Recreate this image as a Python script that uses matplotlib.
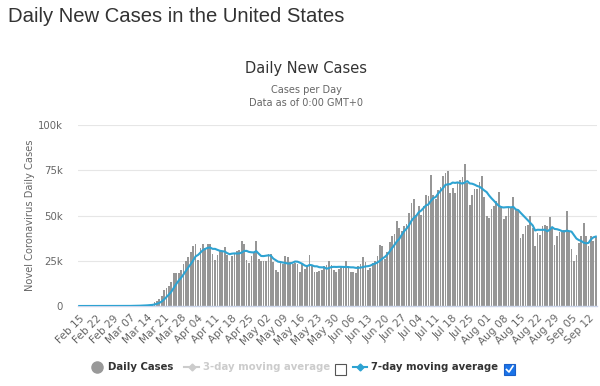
import datetime as dt
import numpy as np
import pandas as pd
import matplotlib
matplotlib.use('Agg')
import matplotlib.pyplot as plt
from matplotlib.lines import Line2D
from matplotlib.patches import Rectangle

# daily new cases in thousands, one value per day from Feb 15
start = dt.date(2020, 2, 15)
daily_k = [
    0, 0, 0, 0, 0, 0, 0.002, 0, 0, 0.018, 0, 0, 0.002, 0.003, 0.007,
    0.008, 0.023, 0.024, 0.030, 0.060, 0.068, 0.118, 0.130, 0.179, 0.290, 0.303, 0.420, 0.552, 0.650, 0.740, 1.15,
    2, 3, 4, 5.5, 9, 10, 11, 13, 18, 18.5,
    18.5, 20, 23, 25, 27, 30, 33, 34, 25.5, 32,
    34.5, 32, 34, 34, 29, 25.5, 28, 31, 30.5, 32.5,
    28, 25, 27.5, 29, 30.5, 31, 35.7, 34, 25.5, 23.5,
    27.5, 30, 36, 26, 25, 25, 25, 29, 29, 24.5,
    20, 19, 23.5, 23, 27.5, 27, 24.5, 23, 23.5, 23,
    19, 23, 20.5, 22, 28, 22, 19, 19, 19.5, 20,
    22, 22.5, 25, 22.5, 20, 19, 20.5, 22, 22, 25,
    22, 19, 19, 18.5, 22, 23, 27, 24.5, 20, 21,
    23.5, 25, 27.5, 33.5, 33, 26, 30, 35.5, 38.5, 40,
    47, 43, 41.5, 44, 45.5, 51.5, 57, 59, 50.5, 55,
    50.5, 55.5, 61.5, 61, 72.5, 61.5, 59, 64, 66, 72,
    73.5, 74.5, 62.5, 65, 62.5, 68, 69.5, 71.5, 78.5, 68,
    56, 61.5, 64.5, 64.5, 68.5, 72, 60, 49.5, 48.5, 53.5,
    55, 58, 63, 55, 48, 49.5, 54, 54, 60, 53,
    52.5, 37.5, 40, 44, 44.5, 50, 43, 33, 40.5, 39.5,
    44, 45, 44, 49, 43, 33.5, 38.5, 41, 41, 42,
    52.5, 41, 31.5, 25, 28, 35, 38.5, 46, 38.5, 33,
    38.5, 36, 38,
]
y_ticks = [0, 25, 50, 75, 100]
y_labels = ['0', '25k', '50k', '75k', '100k']

W, H = 600, 386
dates = [start + dt.timedelta(days=i) for i in range(len(daily_k))]
days = np.arange(len(daily_k))
avg7 = pd.Series(daily_k).rolling(7, min_periods=1).mean()


def fx(px):
    return px / W


def fy(py):
    return 1 - py / H


fig = plt.figure(figsize=(6, 3.86), dpi=100)
ax = fig.add_axes([fx(78), fy(306), fx(597) - fx(78), fy(125) - fy(306)])

ax.bar(days, daily_k, width=0.72, color='#969696', linewidth=0, zorder=2)
ax.plot(days, avg7, color='#2ea3d2', lw=1.5, zorder=3)

ax.set_xlim(-0.5, len(daily_k) - 0.5)
ax.set_ylim(0, 100)
ax.set_yticks(y_ticks)
ax.set_yticklabels(y_labels)
ax.grid(axis='y', color='#e6e6e6', lw=0.8, zorder=0)
for s in ['top', 'right', 'left']:
    ax.spines[s].set_visible(False)
ax.spines['bottom'].set_color('#ccd6eb')
ax.spines['bottom'].set_linewidth(1)
ax.tick_params(axis='y', length=0, labelsize=7.3, labelcolor='#666666', pad=11)

xt = days[::7]
ax.set_xticks(xt)
ax.set_xticklabels([dates[i].strftime('%b %d') for i in xt], rotation=45,
                   ha='right', rotation_mode='anchor', fontsize=7.6, color='#666666')
ax.tick_params(axis='x', length=0, pad=5)
ax.set_ylabel('Novel Coronavirus Daily Cases', fontsize=7.1, color='#666666')
ax.yaxis.set_label_coords(-0.083, 0.5)

fig.text(fx(8), fy(17), 'Daily New Cases in the United States', fontsize=14.6,
         family='Liberation Sans', color='#333333', va='center', ha='left')
fig.text(fx(306), fy(68), 'Daily New Cases', fontsize=10.5, color='#333333', ha='center', va='center')
fig.text(fx(306), fy(90), 'Cases per Day', fontsize=7, color='#666666', ha='center', va='center')
fig.text(fx(306), fy(103), 'Data as of 0:00 GMT+0', fontsize=7, color='#666666', ha='center', va='center')

# legend row
ly = fy(367)
fig.add_artist(Line2D([fx(97)], [ly], marker='o', ms=8, color='#999999', lw=0))
fig.text(fx(108), ly, 'Daily Cases', fontsize=7.3, weight='bold', color='#333333', va='center')
fig.add_artist(Line2D([fx(184), fx(199)], [ly, ly], color='#cccccc', lw=1.5))
fig.add_artist(Line2D([fx(191.5)], [ly], marker='D', ms=3.5, color='#cccccc', lw=0))
fig.text(fx(203), ly, '3-day moving average', fontsize=7.3, weight='bold', color='#cccccc', va='center')
fig.add_artist(Rectangle((fx(335), fy(375)), fx(11), fy(364) - fy(375), facecolor='white',
                         edgecolor='#555555', lw=0.8, transform=fig.transFigure))
fig.add_artist(Line2D([fx(353), fx(367)], [ly, ly], color='#2ea3d2', lw=1.5))
fig.add_artist(Line2D([fx(360)], [ly], marker='D', ms=3.5, color='#2ea3d2', lw=0))
fig.text(fx(371), ly, '7-day moving average', fontsize=7.3, weight='bold', color='#333333', va='center')
fig.add_artist(Rectangle((fx(504), fy(375)), fx(11), fy(364) - fy(375), facecolor='#1a73e8',
                         edgecolor='#1a5fc8', lw=0.8, transform=fig.transFigure))
fig.add_artist(Line2D([fx(506.5), fx(509), fx(513)], [fy(369.5), fy(372), fy(366)],
                      color='white', lw=1.2))

fig.savefig('out.png', dpi=100)
